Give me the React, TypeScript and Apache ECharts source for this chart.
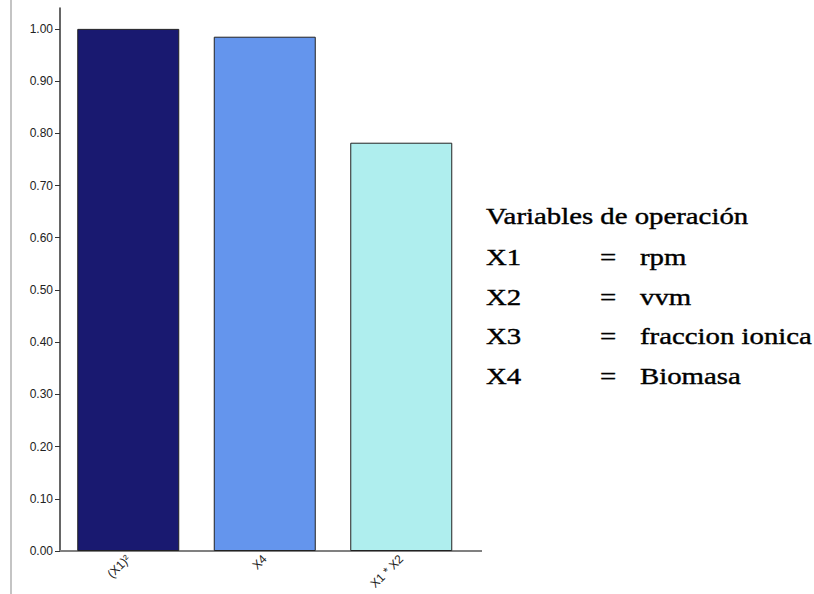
import React, { useEffect, useRef } from "react";
import * as echarts from "echarts";

const categories = ["(X1)²", "X4", "X1 * X2"];
const values = [1.0, 0.985, 0.782];
const barColors = ["#191970", "#6495ED", "#AFEEEE"];
const yTicks = [0, 0.1, 0.2, 0.3, 0.4, 0.5, 0.6, 0.7, 0.8, 0.9, 1.0];
const legendTitle = "Variables de operación";
const legendVars = ["X1", "X2", "X3", "X4"];
const legendNames = ["rpm", "vvm", "fraccion ionica", "Biomasa"];

export default function App() {
  const ref = useRef<HTMLDivElement>(null);
  useEffect(() => {
    document.body.style.margin = "0";
    const chart = echarts.init(ref.current!, null, { renderer: "svg" });
    const serif = "'Liberation Serif', 'Times New Roman', serif";
    const legendYs = [216, 257, 297, 336, 376];
    const textStyle = (x: number, y: number, text: string) => ({
      type: "text",
      x,
      y,
      scaleX: 1.2,
      style: {
        text,
        font: `24px ${serif}`,
        fill: "#000",
        stroke: "#000",
        lineWidth: 0.4,
        verticalAlign: "middle",
        align: "left",
      },
    });
    const graphics: any[] = [
      {
        type: "line",
        shape: { x1: 11, y1: 0, x2: 11, y2: 594 },
        style: { stroke: "#c4c4c4", lineWidth: 2 },
      },
      {
        type: "line",
        shape: { x1: 469, y1: 551, x2: 482, y2: 551 },
        style: { stroke: "#808080", lineWidth: 2 },
      },
      textStyle(486, legendYs[0], legendTitle),
    ];
    legendVars.forEach((v, i) => {
      graphics.push(textStyle(486, legendYs[i + 1], v));
      graphics.push(textStyle(600, legendYs[i + 1], "="));
      graphics.push(textStyle(640, legendYs[i + 1], legendNames[i]));
    });
    chart.setOption({
      animation: false,
      grid: { left: 60, top: 8, width: 409.5, bottom: 43, containLabel: false },
      xAxis: {
        type: "category",
        data: categories,
        axisLine: { lineStyle: { color: "#808080", width: 2 } },
        axisTick: { alignWithLabel: true, length: 5, lineStyle: { color: "#808080" } },
        axisLabel: {
          rotate: 45,
          fontSize: 12,
          fontFamily: "'Liberation Sans', Arial, sans-serif",
          color: "#222",
          margin: 6,
        },
      },
      yAxis: {
        type: "value",
        min: 0,
        max: 1.04,
        splitLine: { show: false },
        axisLine: { show: true, lineStyle: { color: "#333", width: 1.5 } },
        axisTick: { show: true, length: 5, customValues: yTicks, lineStyle: { color: "#333" } },
        axisLabel: {
          customValues: yTicks,
          formatter: (v: number) => v.toFixed(2),
          fontSize: 12,
          fontFamily: "'Liberation Sans', Arial, sans-serif",
          color: "#222",
          margin: 7,
        },
      },
      series: [
        {
          type: "bar",
          barWidth: 102,
          data: values.map((v, i) => ({
            value: v,
            itemStyle: { color: barColors[i], borderColor: "#222", borderWidth: 1 },
          })),
        },
      ],
      graphic: graphics,
    });
    return () => chart.dispose();
  }, []);
  return <div ref={ref} style={{ width: 814, height: 594 }} />;
}
